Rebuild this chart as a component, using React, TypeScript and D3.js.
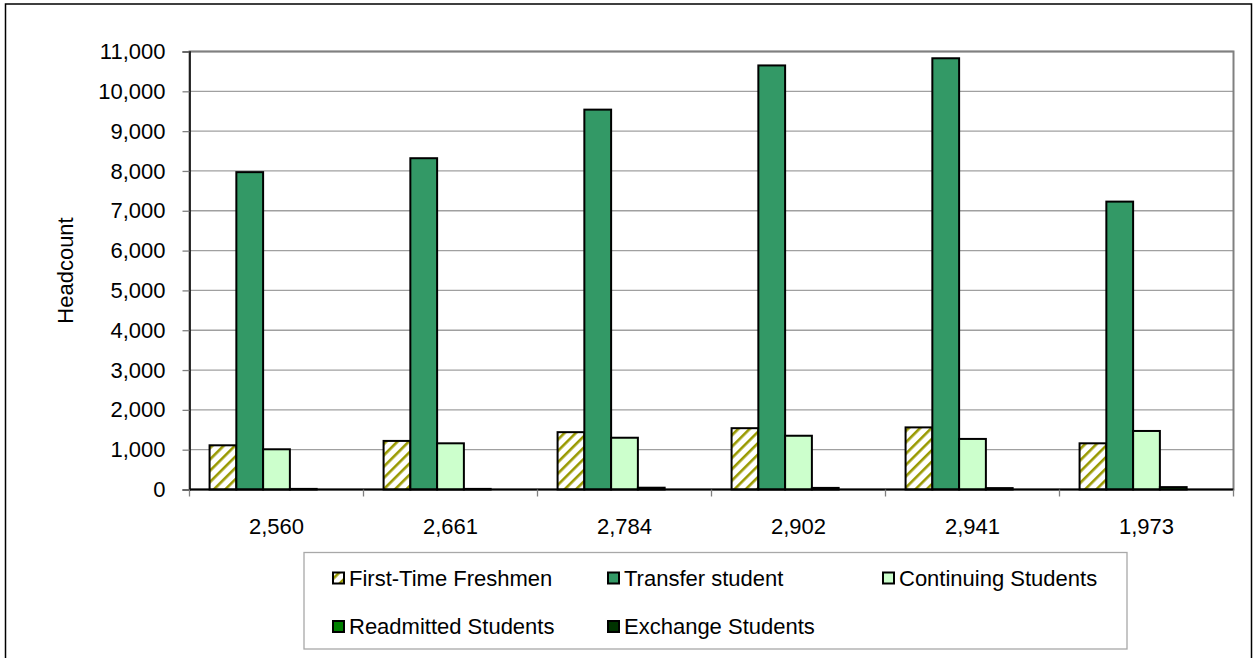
import * as React from 'react'
import * as d3 from 'd3'

const WIDTH = 1253
const HEIGHT = 658
const PLOT_LEFT = 189.5
const PLOT_RIGHT = 1233.5
const PLOT_TOP = 51.5
const PLOT_BOTTOM = 489.5
const FONT = '"Liberation Sans", Arial, Helvetica, sans-serif'
const FONT_SIZE = 22

// data
const categories = ['2,560', '2,661', '2,784', '2,902', '2,941', '1,973']
const firstTimeFreshmen = [1110, 1220, 1440, 1540, 1560, 1160]
const transferStudent = [7970, 8320, 9540, 10650, 10830, 7230]
const continuingStudents = [1010, 1160, 1300, 1350, 1270, 1470]
const readmittedStudents = [15, 15, 45, 40, 35, 60]
const exchangeStudents = [0, 0, 0, 0, 0, 0]
const yTicks = [0, 1000, 2000, 3000, 4000, 5000, 6000, 7000, 8000, 9000, 10000, 11000]

const seriesNames = [
  'First-Time Freshmen',
  'Transfer student',
  'Continuing Students',
  'Readmitted Students',
  'Exchange Students'
]
const seriesValues = [
  firstTimeFreshmen,
  transferStudent,
  continuingStudents,
  readmittedStudents,
  exchangeStudents
]
const seriesFills = [
  'url(#hatch)',
  '#339966',
  '#CCFFCC',
  '#008000',
  '#003300'
]

interface Cell {
  category: string
  series: string
  value: number
  fill: string
}

function drawChart(svgRef: React.RefObject<SVGSVGElement>) {
  const svg = d3.select(svgRef.current)
  svg.selectAll('*').remove()

  const defs = svg.append('defs')
  const hatch = defs
    .append('pattern')
    .attr('id', 'hatch')
    .attr('patternUnits', 'userSpaceOnUse')
    .attr('width', 8)
    .attr('height', 8)
    .attr('patternTransform', 'rotate(45)')
  hatch.append('rect').attr('width', 8).attr('height', 8).attr('fill', '#ffffff')
  hatch.append('rect').attr('width', 2.6).attr('height', 8).attr('fill', '#999900')

  svg
    .append('rect')
    .attr('width', WIDTH)
    .attr('height', HEIGHT)
    .attr('fill', '#ffffff')

  // outer chart border
  svg
    .append('rect')
    .attr('x', 5.5)
    .attr('y', 4)
    .attr('width', 1246)
    .attr('height', 700)
    .attr('fill', 'none')
    .attr('stroke', '#000000')
    .attr('stroke-width', 1.5)

  const x0 = d3
    .scaleBand<string>()
    .domain(categories)
    .range([PLOT_LEFT, PLOT_RIGHT])
    .paddingInner(0)
    .paddingOuter(0)
  const x1 = d3
    .scaleBand<string>()
    .domain(seriesNames)
    .range([0, x0.bandwidth()])
    .paddingInner(0)
    .paddingOuter(0.75)
  const y = d3.scaleLinear().domain([0, 11000]).range([PLOT_BOTTOM, PLOT_TOP])

  // gridlines
  svg
    .append('g')
    .selectAll('line')
    .data(yTicks.filter(d => d > 0))
    .join('line')
    .attr('x1', PLOT_LEFT)
    .attr('x2', PLOT_RIGHT)
    .attr('y1', d => y(d))
    .attr('y2', d => y(d))
    .attr('stroke', '#a0a0a0')
    .attr('stroke-width', 1.3)

  // plot area border
  svg
    .append('rect')
    .attr('x', PLOT_LEFT)
    .attr('y', PLOT_TOP)
    .attr('width', PLOT_RIGHT - PLOT_LEFT)
    .attr('height', PLOT_BOTTOM - PLOT_TOP)
    .attr('fill', 'none')
    .attr('stroke', '#808080')
    .attr('stroke-width', 2)

  const cells: Cell[] = []
  categories.forEach((c, ci) => {
    seriesNames.forEach((s, si) => {
      cells.push({ category: c, series: s, value: seriesValues[si][ci], fill: seriesFills[si] })
    })
  })

  svg
    .append('g')
    .selectAll('rect')
    .data(cells)
    .join('rect')
    .attr('x', d => (x0(d.category) ?? 0) + (x1(d.series) ?? 0))
    .attr('y', d => y(d.value))
    .attr('width', x1.bandwidth())
    .attr('height', d => y(0) - y(d.value))
    .attr('fill', d => d.fill)
    .attr('stroke', '#000000')
    .attr('stroke-width', 2)

  // y axis
  const yAxis = svg
    .append('g')
    .attr('transform', `translate(${PLOT_LEFT},0)`)
    .call(
      d3
        .axisLeft(y)
        .tickValues(yTicks)
        .tickSize(7)
        .tickPadding(17)
        .tickFormat(d => d3.format(',')(d as number))
    )
  yAxis.select('.domain').attr('stroke', '#000000').attr('stroke-width', 1.5)
  yAxis.selectAll('.tick line').attr('stroke', '#808080').attr('stroke-width', 1.3)
  yAxis
    .selectAll('.tick text')
    .attr('font-family', FONT)
    .attr('font-size', FONT_SIZE)
    .attr('fill', '#000000')
  yAxis.attr('font-family', null).attr('font-size', null)

  // x axis: line, ticks between categories, labels at centres
  svg
    .append('line')
    .attr('x1', PLOT_LEFT)
    .attr('x2', PLOT_RIGHT)
    .attr('y1', y(0))
    .attr('y2', y(0))
    .attr('stroke', '#000000')
    .attr('stroke-width', 2)
  const boundaries = categories.map(c => x0(c) ?? 0).concat([PLOT_RIGHT])
  svg
    .append('g')
    .selectAll('line')
    .data(boundaries)
    .join('line')
    .attr('x1', d => d)
    .attr('x2', d => d)
    .attr('y1', y(0))
    .attr('y2', y(0) + 7)
    .attr('stroke', '#808080')
    .attr('stroke-width', 1.3)
  svg
    .append('g')
    .selectAll('text')
    .data(categories)
    .join('text')
    .attr('x', d => (x0(d) ?? 0) + x0.bandwidth() / 2)
    .attr('y', 534)
    .attr('text-anchor', 'middle')
    .attr('font-family', FONT)
    .attr('font-size', FONT_SIZE)
    .text(d => d)

  // y axis title
  svg
    .append('text')
    .attr('transform', `translate(73,${(PLOT_TOP + PLOT_BOTTOM) / 2}) rotate(-90)`)
    .attr('text-anchor', 'middle')
    .attr('font-family', FONT)
    .attr('font-size', FONT_SIZE)
    .text('Headcount')

  // legend
  const legend = svg.append('g')
  legend
    .append('rect')
    .attr('x', 304)
    .attr('y', 552.5)
    .attr('width', 823)
    .attr('height', 96.5)
    .attr('fill', '#ffffff')
    .attr('stroke', '#a8a8a8')
    .attr('stroke-width', 1.3)
  const items = legend
    .selectAll('g.item')
    .data(seriesNames)
    .join('g')
    .attr('class', 'item')
    .attr('transform', (d, i) => `translate(${332 + (i % 3) * 275},${578 + Math.floor(i / 3) * 48.5})`)
  items
    .append('rect')
    .attr('x', 1)
    .attr('y', -5.5)
    .attr('width', 11)
    .attr('height', 11)
    .attr('fill', (d, i) => seriesFills[i])
    .attr('stroke', '#000000')
    .attr('stroke-width', 2)
  items
    .append('text')
    .attr('x', 17)
    .attr('y', 0)
    .attr('dy', '0.36em')
    .attr('font-family', FONT)
    .attr('font-size', FONT_SIZE)
    .text(d => d)
}

export default function App() {
  const chartSvg = React.useRef<SVGSVGElement>(null)
  React.useEffect(() => {
    drawChart(chartSvg)
  }, [])
  return (
    <svg
      ref={chartSvg}
      width={WIDTH}
      height={HEIGHT}
      style={{ position: 'absolute', left: 0, top: 0, display: 'block' }}
    />
  )
}
